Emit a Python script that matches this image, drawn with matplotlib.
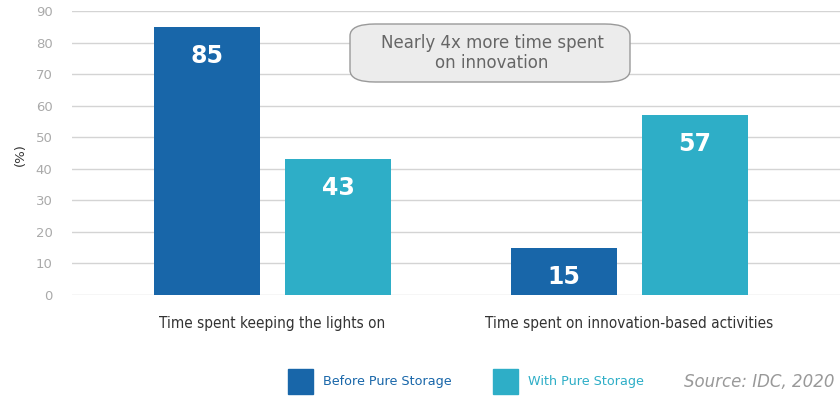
import matplotlib.pyplot as plt
import numpy as np
from matplotlib.patches import FancyBboxPatch, Rectangle

categories = ["Time spent keeping the lights on", "Time spent on innovation-based activities"]
before = [85, 15]
with_pure = [43, 57]
series_names = ["Before Pure Storage", "With Pure Storage"]
yticks = [0, 10, 20, 30, 40, 50, 60, 70, 80, 90]

DARK = "#1866a9"
TEAL = "#2eaec7"
W, H = 840, 396

fig = plt.figure(figsize=(W / 100, H / 100), dpi=100)
ax = fig.add_axes([72 / W, 101 / H, 768 / W, 284 / H])

x = np.arange(len(categories))
bw = 0.297
off = 0.1835
b1 = ax.bar(x - off, before, bw, color=DARK, zorder=3)
b2 = ax.bar(x + off, with_pure, bw, color=TEAL, zorder=3)

for bars, vals in ((b1, before), (b2, with_pure)):
    for rect, v in zip(bars, vals):
        ax.annotate(str(v), (rect.get_x() + rect.get_width() / 2, v),
                    xytext=(0, -21), textcoords="offset points",
                    ha="center", va="center", color="white",
                    fontsize=17, fontweight="bold", zorder=4)

ax.set_xlim(-0.5616, 1.5896)
ax.set_ylim(0, 90)
ax.set_yticks(yticks)
ax.yaxis.grid(True, color="#d4d4d4", linewidth=1, zorder=0)
ax.tick_params(axis="y", length=0, pad=14, labelcolor="#aaaaaa", labelsize=9.5)
ax.set_xticks(x)
ax.set_xticklabels(categories, family="DejaVu Sans", fontstretch="condensed",
                   fontsize=11, color="#333333")
ax.tick_params(axis="x", length=0, pad=15)
for s in ax.spines.values():
    s.set_visible(False)

fig.text(20 / W, 1 - 155 / H, "(%)", rotation=90, ha="center", va="center",
         fontsize=9.5, color="#333333")

# callout box
box = FancyBboxPatch((350 / W, 1 - 82 / H), 280 / W, 58 / H,
                     boxstyle="round,pad=0,rounding_size=0.03",
                     transform=fig.transFigure, facecolor="#ececec",
                     edgecolor="#9a9a9a", linewidth=1, zorder=5)
fig.patches.append(box)
fig.text(492 / W, 1 - 53 / H, "Nearly 4x more time spent\non innovation",
         ha="center", va="center", fontsize=12, color="#666666",
         linespacing=1.15, zorder=6)

# legend
for px, col, name in ((288, DARK, series_names[0]), (493, TEAL, series_names[1])):
    fig.patches.append(Rectangle((px / W, 1 - 394 / H), 25 / W, 25 / H,
                                 transform=fig.transFigure, color=col))
    fig.text((px + 35) / W, 1 - 382 / H, name, ha="left", va="center",
             fontsize=9.2, color=col)
fig.text(835 / W, 1 - 382 / H, "Source: IDC, 2020", ha="right", va="center",
         fontsize=12, style="italic", color="#999999")

fig.savefig("out.png", dpi=100)
